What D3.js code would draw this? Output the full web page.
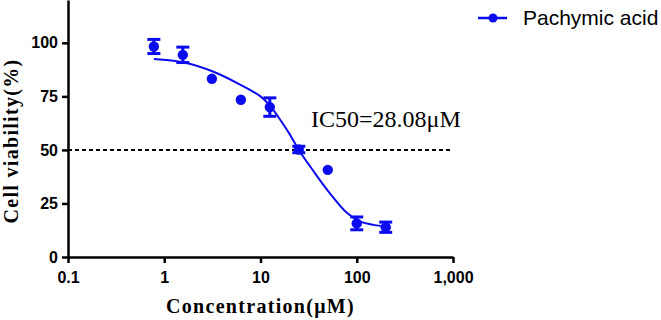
<!DOCTYPE html>
<html lang="en">
<head>
    <meta charset="UTF-8">
    <title>Pachymic acid IC50</title>
    <script src="https://d3js.org/d3.v7.min.js"></script>
    <style>
        body { margin: 0; background: #fff; }
        svg { display: block; }
        .tick-label { font-family: "Liberation Sans", Arial, sans-serif; font-weight: bold; font-size: 16px; }
        .axis-title { font-family: "Liberation Serif", "Times New Roman", serif; font-weight: bold; font-size: 20px; letter-spacing: 1.3px; }
    </style>
</head>
<body>
    <svg></svg>
    <script>
        // measured points (mean +/- error)
        const concentrations = [0.78, 1.56, 3.125, 6.25, 12.5, 25, 50, 100, 200];
        const viability = [98.3, 94.4, 83.2, 73.4, 70.0, 50.2, 40.7, 15.7, 13.9];
        const errors = [3.3, 3.6, 0, 0, 4.3, 1.5, 0, 3.0, 2.4];

        // fitted curve
        const fitConc = [0.78, 1.6, 3.2, 6.2, 10, 12.5, 15.5, 20, 25, 35, 50, 80, 110, 150, 200];
        const fitVal = [92.4, 90.8, 86.6, 80.4, 75.0, 70.8, 65.0, 57.5, 50.0, 40.5, 31.0, 20.4, 16.5, 15.0, 14.2];

        const xTicks = [0.1, 1, 10, 100, 1000];
        const xTickLabels = ['0.1', '1', '10', '100', '1,000'];
        const yTicks = [0, 25, 50, 75, 100];
        const ic50Label = 'IC50=28.08\u03bcM';
        const seriesName = 'Pachymic acid';

        const blue = '#0b0bf0';
        const width = 661, height = 320;

        const svg = d3.select('svg')
            .attr('width', width)
            .attr('height', height);

        const x = d3.scaleLog().domain([0.1, 1000]).range([68, 453]);
        const y = d3.scaleLinear().domain([0, 120]).range([257, 0]);

        // y axis
        const yAxis = svg.append('g')
            .attr('transform', 'translate(68,0)')
            .call(d3.axisLeft(y).tickValues(yTicks).tickSize(6).tickPadding(4).tickSizeOuter(0));
        yAxis.select('.domain').attr('stroke-width', 2.5);
        yAxis.selectAll('.tick line').attr('stroke-width', 2.5);
        yAxis.selectAll('.tick text').attr('class', 'tick-label').attr('fill', '#000');

        // x axis
        const xAxis = svg.append('g')
            .attr('transform', 'translate(0,257)')
            .call(d3.axisBottom(x).tickValues(xTicks)
                .tickFormat((d, i) => xTickLabels[i])
                .tickSize(6).tickPadding(9).tickSizeOuter(0));
        xAxis.select('.domain').attr('stroke-width', 2.5);
        xAxis.selectAll('.tick line').attr('stroke-width', 2.5);
        xAxis.selectAll('.tick text').attr('class', 'tick-label').attr('fill', '#000');

        // 50% dashed reference
        svg.append('line')
            .attr('x1', x(0.1)).attr('x2', x(1000))
            .attr('y1', y(50)).attr('y2', y(50))
            .attr('stroke', '#000')
            .attr('stroke-width', 2)
            .attr('stroke-dasharray', '4,3');

        // fit curve
        const line = d3.line()
            .x((d, i) => x(fitConc[i]))
            .y(d => y(d))
            .curve(d3.curveCatmullRom);
        svg.append('path')
            .datum(fitVal)
            .attr('d', line)
            .attr('fill', 'none')
            .attr('stroke', blue)
            .attr('stroke-width', 2);

        // error bars
        const eb = svg.append('g').attr('stroke', blue).attr('stroke-width', 3);
        concentrations.forEach((c, i) => {
            if (!errors[i]) return;
            const cx = x(c);
            const top = y(viability[i] + errors[i]);
            const bot = y(viability[i] - errors[i]);
            eb.append('line').attr('x1', cx).attr('x2', cx).attr('y1', top).attr('y2', bot);
            eb.append('line').attr('x1', cx - 6.5).attr('x2', cx + 6.5).attr('y1', top).attr('y2', top);
            eb.append('line').attr('x1', cx - 6.5).attr('x2', cx + 6.5).attr('y1', bot).attr('y2', bot);
        });

        // points
        svg.selectAll('circle.pt')
            .data(viability)
            .enter().append('circle')
            .attr('class', 'pt')
            .attr('cx', (d, i) => x(concentrations[i]))
            .attr('cy', d => y(d))
            .attr('r', 5.2)
            .attr('fill', blue);

        // IC50 annotation
        svg.append('text')
            .attr('x', 311)
            .attr('y', 127)
            .style('font-family', '"Liberation Serif", "Times New Roman", serif')
            .style('font-size', '24px')
            .text(ic50Label);

        // axis titles
        svg.append('text')
            .attr('class', 'axis-title')
            .attr('x', (x(0.1) + x(1000)) / 2)
            .attr('y', 313)
            .attr('text-anchor', 'middle')
            .text('Concentration(\u03bcM)');

        svg.append('text')
            .attr('class', 'axis-title')
            .attr('transform', 'translate(18,141) rotate(-90)')
            .attr('text-anchor', 'middle')
            .text('Cell viability(%)');

        // legend
        const lg = svg.append('g').attr('transform', 'translate(478,18)');
        lg.append('line').attr('x1', 0).attr('x2', 29).attr('y1', 0).attr('y2', 0)
            .attr('stroke', blue).attr('stroke-width', 2.5);
        lg.append('circle').attr('cx', 15).attr('cy', 0).attr('r', 4.5).attr('fill', blue);
        lg.append('text')
            .attr('x', 45)
            .attr('y', 7)
            .style('font-family', '"Liberation Sans", Arial, sans-serif')
            .style('font-size', '21px')
            .text(seriesName);
    </script>
</body>
</html>
